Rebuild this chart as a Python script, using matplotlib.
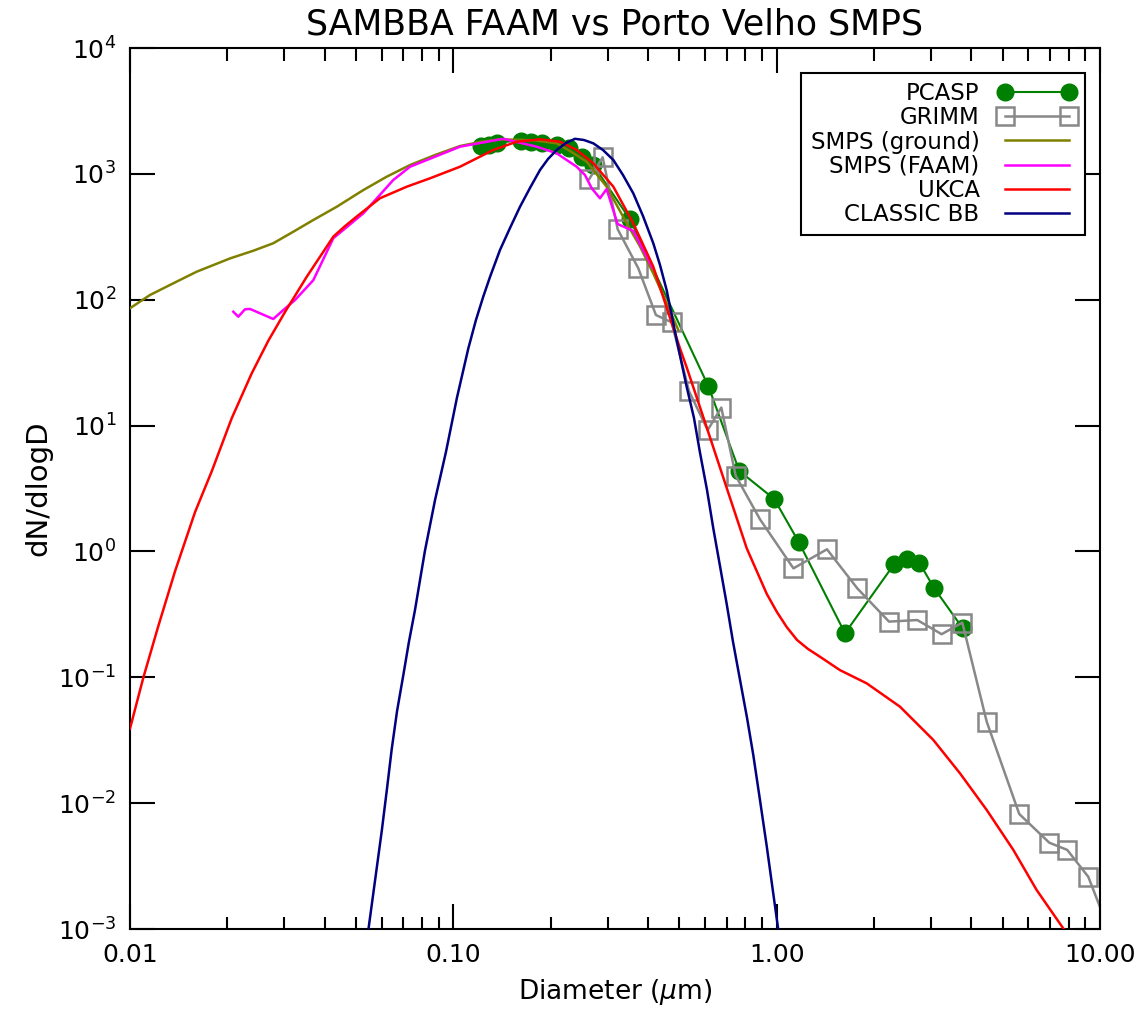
import numpy as np
import matplotlib
matplotlib.use("Agg")
import matplotlib.pyplot as plt
from matplotlib.ticker import FixedLocator, FixedFormatter, LogLocator, NullLocator, NullFormatter

# --- data (diameter in um, dN/dlogD) ---
pcasp_d = [0.1218, 0.1289, 0.1365, 0.1619, 0.1738, 0.188, 0.2088, 0.2284, 0.2494, 0.271, 0.352,
           0.6147, 0.7665, 0.983, 1.172, 1.627, 2.311, 2.535, 2.761, 3.073, 3.762]
pcasp_n = [1665, 1695, 1775, 1841, 1791, 1759, 1695, 1597, 1369, 1176, 435,
           20.6, 4.36, 2.61, 1.18, 0.224, 0.795, 0.866, 0.814, 0.509, 0.245]

grimm_d = [0.2633, 0.2897, 0.3224, 0.3733, 0.4233, 0.4735, 0.5357, 0.612, 0.6743, 0.7469, 0.8882,
           1.127, 1.431, 1.776, 2.226, 2.723, 3.238, 3.752, 4.463, 5.627, 6.97, 7.92, 9.20, 11.1]
grimm_n = [910, 1354, 363, 178, 75.6, 66.2, 18.8, 9.22, 13.9, 4.0, 1.80,
           0.734, 1.04, 0.509, 0.277, 0.285, 0.220, 0.272, 0.0444, 0.0082, 0.00485, 0.00425, 0.0026, 0.00075]

smps_gnd_d = [0.010, 0.01153, 0.01361, 0.01608, 0.0204, 0.02406, 0.02774, 0.0320, 0.0369, 0.0436,
              0.0527, 0.0622, 0.0735, 0.0878, 0.1049, 0.1209, 0.1394, 0.178, 0.2088, 0.2295,
              0.2585, 0.298, 0.3438, 0.378, 0.4154, 0.4546, 0.4964]
smps_gnd_n = [85.5, 109, 135, 167, 213, 245, 281, 347, 430, 548,
              744, 949, 1176, 1412, 1665, 1791, 1882, 1850, 1749, 1520,
              1249, 791, 405, 265, 162, 97, 57.5]

smps_faam_d = [0.02087, 0.02163, 0.02268, 0.0235, 0.02774, 0.0298, 0.0324, 0.0369, 0.04255, 0.0527,
               0.0652, 0.0735, 0.1049, 0.1427, 0.1811, 0.2088, 0.2407, 0.2554, 0.268, 0.2842,
               0.298, 0.322, 0.3602, 0.413]
smps_faam_n = [80.3, 73.3, 83.9, 84.5, 70.3, 82.8, 99.5, 143, 308, 486,
               894, 1140, 1644, 1900, 1644, 1457, 1140, 979, 768, 640,
               758, 400, 352, 179]

ukca_d = [0.010, 0.0110, 0.01223, 0.01378, 0.01589, 0.0179, 0.02063, 0.02378, 0.02678, 0.03017,
          0.0352, 0.04255, 0.046, 0.0502, 0.0593, 0.0718, 0.0847, 0.1049, 0.1329, 0.157,
          0.1854, 0.2138, 0.2407, 0.271, 0.3126, 0.3602, 0.4154, 0.5023, 0.527, 0.6077,
          0.7006, 0.808, 0.9316, 1.002, 1.074, 1.156, 1.250, 1.362, 1.570, 1.899,
          2.407, 3.051, 3.69, 4.463, 5.395, 6.37, 7.70, 8.67]
ukca_n = [0.039, 0.0995, 0.254, 0.694, 2.05, 4.33, 11.4, 25.9, 47.2, 80,
          152, 317, 380, 457, 640, 791, 922, 1140, 1548, 1801,
          1882, 1801, 1548, 1213, 791, 405, 183, 41.1, 29, 9.68,
          3.20, 1.06, 0.461, 0.330, 0.251, 0.198, 0.168, 0.1455, 0.114, 0.0895,
          0.0584, 0.0318, 0.01726, 0.00883, 0.00425, 0.00204, 0.00101, 0.00062]

classic_d = [0.0546, 0.0573, 0.0601, 0.0624, 0.0645, 0.0670, 0.0700, 0.0729, 0.0761, 0.0789,
             0.0817, 0.0878, 0.0949, 0.1026, 0.1113, 0.1175, 0.1238, 0.1299, 0.1394, 0.1497,
             0.1608, 0.1726, 0.1854, 0.1963, 0.2088, 0.2231, 0.2378, 0.2536, 0.271, 0.2903,
             0.3126, 0.3348, 0.3602, 0.3860, 0.4154, 0.4357, 0.457, 0.4907, 0.527, 0.555,
             0.5793, 0.609, 0.6368, 0.668, 0.7006, 0.733, 0.770, 0.810, 0.8468, 0.888,
             0.9316, 1.012]
classic_n = [0.00098, 0.00245, 0.00605, 0.0132, 0.0269, 0.054, 0.103, 0.191, 0.341, 0.593,
             1.01, 2.56, 6.17, 16.6, 41.1, 69, 106, 152, 248, 371,
             548, 772, 1073, 1313, 1548, 1759, 1900, 1858, 1749, 1548,
             1289, 979, 701, 463, 281, 189, 119, 47.9, 20.3, 11.5,
             6.10, 3.08, 1.53, 0.766, 0.383, 0.191, 0.0961, 0.0475, 0.0241, 0.0106,
             0.00457, 0.00098]

xticks = [0.01, 0.1, 1.0, 10.0]
xticklabels = ["0.01", "0.10", "1.00", "10.00"]

plt.rcParams['font.family'] = ['DejaVu Sans']

fig = plt.figure(figsize=(11.38, 10.11), dpi=100)
ax = fig.add_axes([0.1142, 0.0811, 0.8524, 0.8714])

ax.plot(pcasp_d, pcasp_n, color='#008000', lw=1.5, marker='o', ms=12, mec='#008000',
        mfc='#008000', label='PCASP', zorder=2)
ax.plot(grimm_d, grimm_n, color='#888888', lw=1.8, marker='s', ms=13, mec='#888888',
        mfc='none', mew=1.8, label='GRIMM', zorder=2)
ax.plot(smps_gnd_d, smps_gnd_n, color='#808000', lw=1.8, label='SMPS (ground)', zorder=3)
ax.plot(smps_faam_d, smps_faam_n, color='#ff00ff', lw=1.8, label='SMPS (FAAM)', zorder=3)
ax.plot(ukca_d, ukca_n, color='#ff0000', lw=1.8, label='UKCA', zorder=3)
ax.plot(classic_d, classic_n, color='#000080', lw=1.8, label='CLASSIC BB', zorder=3)

ax.set_xscale('log')
ax.set_yscale('log')
ax.set_xlim(0.01, 10)
ax.set_ylim(1e-3, 1e4)

ax.xaxis.set_major_locator(FixedLocator(xticks))
ax.xaxis.set_major_formatter(FixedFormatter(xticklabels))
ax.xaxis.set_minor_locator(LogLocator(base=10, subs=np.arange(2, 10)))
ax.xaxis.set_minor_formatter(NullFormatter())
ax.yaxis.set_major_locator(LogLocator(base=10, numticks=10))
ax.yaxis.set_minor_locator(NullLocator())

ax.tick_params(which='both', direction='in', top=True, right=True, width=1.5)
ax.tick_params(which='major', length=18, labelsize=18, pad=10)
ax.tick_params(which='minor', length=9)
for sp in ax.spines.values():
    sp.set_linewidth(1.5)

ax.set_title('SAMBBA FAAM vs Porto Velho SMPS', fontsize=25, pad=10)
ax.set_xlabel(r'Diameter ($\mu$m)', fontsize=19, labelpad=7)
ax.set_ylabel('dN/dlogD', fontsize=21, labelpad=4)

leg = ax.legend(loc='upper right', bbox_to_anchor=(0.9845, 0.9716), borderaxespad=0,
                markerfirst=False, numpoints=2, handlelength=3.4, fontsize=16.5,
                fancybox=False, edgecolor='black', framealpha=1, labelspacing=0.05,
                handletextpad=0.8, borderpad=0.4)
leg.get_frame().set_linewidth(1.5)

fig.savefig('out.png', dpi=100)
